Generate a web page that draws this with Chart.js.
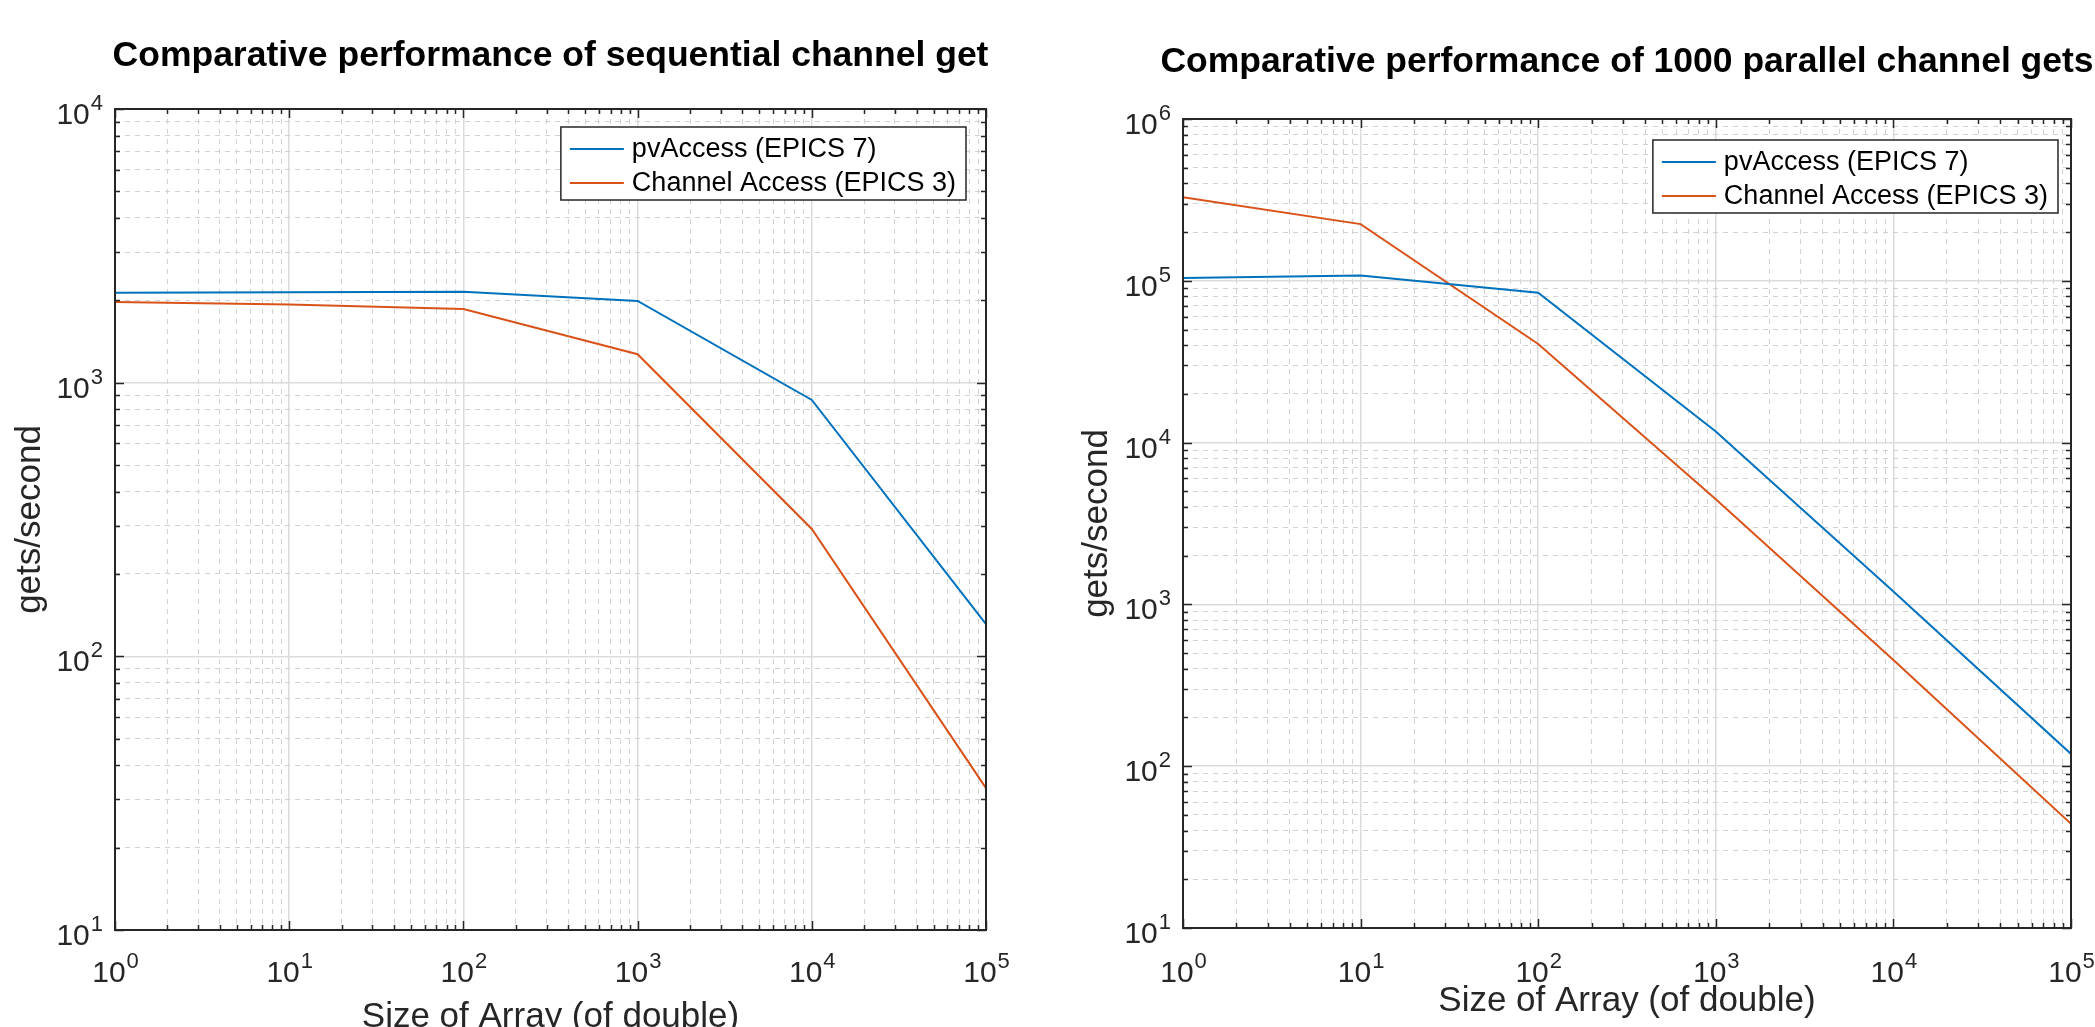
<!DOCTYPE html>
<html lang="en">
<head>
  <meta charset="UTF-8">
  <title>EPICS channel get performance</title>
  <script src="https://cdn.jsdelivr.net/npm/chart.js"></script>
  <style>
    html, body { margin: 0; padding: 0; background: #fff; overflow: hidden; }
    canvas { position: absolute; top: 0; }
    #seqChart { left: 0; }
    #parChart { left: 1047px; }
  </style>
</head>
<body>
<canvas id="seqChart" width="1047" height="1027"></canvas>
<canvas id="parChart" width="1048" height="1027"></canvas>

<script>
  // array sizes (x) and major tick values
  const sizes = [1, 10, 100, 1000, 10000, 100000];
  const xTicks = [1, 10, 100, 1000, 10000, 100000];

  // sequential channel get, gets/second
  const seqPva = [2130, 2140, 2150, 1990, 865, 131];
  const seqCa  = [1970, 1930, 1860, 1270, 292, 33];
  const seqYTicks = [10, 100, 1000, 10000];

  // 1000 parallel channel gets, gets/second
  const parPva = [104000, 108000, 84500, 11700, 1200, 119];
  const parCa  = [328000, 224000, 40700, 4460, 453, 44];
  const parYTicks = [10, 100, 1000, 10000, 100000, 1000000];

  const seriesNames = ['pvAccess (EPICS 7)', 'Channel Access (EPICS 3)'];
  const seriesColors = ['#0072BD', '#D95319'];

  const FONT = "'Liberation Sans', Helvetica, Arial, sans-serif";
  const INK = '#262626';

  // majors plus 2..9 minors in each decade
  function logTicks(majors) {
    const out = [];
    majors.forEach((m, i) => {
      out.push({ value: m, major: true });
      if (i < majors.length - 1) {
        for (let k = 2; k <= 9; k++) out.push({ value: m * k, major: false });
      }
    });
    return out;
  }

  function supLabel(ctx, exp, x, y, align) {
    ctx.font = '30px ' + FONT;
    const wb = ctx.measureText('10').width;
    ctx.font = '22px ' + FONT;
    const we = ctx.measureText(String(exp)).width;
    const x0 = align === 'center' ? x - (wb + we) / 2 : x - wb - we;
    ctx.textAlign = 'left';
    ctx.textBaseline = 'alphabetic';
    ctx.fillStyle = INK;
    ctx.font = '30px ' + FONT;
    ctx.fillText('10', x0, y);
    ctx.font = '22px ' + FONT;
    ctx.fillText(String(exp), x0 + wb + 1, y - 14);
  }

  // box, inward ticks, tick labels, axis titles, title and legend, matlab style
  const frame = {
    id: 'frame',
    afterDatasetsDraw(chart, args, o) {
      const ctx = chart.ctx;
      const a = chart.chartArea;
      const xs = chart.scales.x, ys = chart.scales.y;
      ctx.save();
      ctx.strokeStyle = INK;
      ctx.lineWidth = 1.5;
      ctx.beginPath();
      xs.ticks.forEach(t => {
        const px = Math.round(xs.getPixelForValue(t.value)) + 0.5;
        const len = t.major ? 9 : 5;
        ctx.moveTo(px, a.bottom); ctx.lineTo(px, a.bottom - len);
        ctx.moveTo(px, a.top); ctx.lineTo(px, a.top + len);
      });
      ys.ticks.forEach(t => {
        const py = Math.round(ys.getPixelForValue(t.value)) + 0.5;
        const len = t.major ? 9 : 5;
        ctx.moveTo(a.left, py); ctx.lineTo(a.left + len, py);
        ctx.moveTo(a.right, py); ctx.lineTo(a.right - len, py);
      });
      ctx.stroke();
      ctx.lineWidth = 2;
      ctx.strokeRect(a.left, a.top, a.right - a.left, a.bottom - a.top);

      // tick labels
      xs.ticks.filter(t => t.major).forEach(t => {
        supLabel(ctx, Math.round(Math.log10(t.value)), xs.getPixelForValue(t.value), 982, 'center');
      });
      ys.ticks.filter(t => t.major).forEach(t => {
        supLabel(ctx, Math.round(Math.log10(t.value)), a.left - 13, ys.getPixelForValue(t.value) + 15, 'right');
      });

      // axis titles
      ctx.fillStyle = INK;
      ctx.font = '35px ' + FONT;
      ctx.textAlign = 'center';
      ctx.textBaseline = 'alphabetic';
      ctx.fillText('Size of Array (of double)', (a.left + a.right) / 2, o.xLabelY);
      ctx.save();
      ctx.translate(o.yLabelX, (a.top + a.bottom) / 2);
      ctx.rotate(-Math.PI / 2);
      ctx.textBaseline = 'middle';
      ctx.fillText('gets/second', 0, 0);
      ctx.restore();

      // title
      ctx.fillStyle = '#000';
      ctx.font = 'bold 35.5px ' + FONT;
      ctx.fillText(o.title, (a.left + a.right) / 2, o.titleY);

      // legend
      ctx.font = '27px ' + FONT;
      const sets = chart.data.datasets;
      const tw = Math.max(...sets.map(d => ctx.measureText(d.label).width));
      const bw = 9 + 54 + 8 + tw + 10, bh = 73;
      const bx = a.right - o.legendRight - bw, by = a.top + o.legendTop;
      ctx.fillStyle = '#fff';
      ctx.fillRect(bx, by, bw, bh);
      ctx.strokeStyle = INK;
      ctx.lineWidth = 1.5;
      ctx.strokeRect(bx, by, bw, bh);
      sets.forEach((d, i) => {
        const cy = by + 22 + i * 34;
        ctx.strokeStyle = d.borderColor;
        ctx.lineWidth = 2;
        ctx.beginPath();
        ctx.moveTo(bx + 9, cy); ctx.lineTo(bx + 63, cy);
        ctx.stroke();
        ctx.fillStyle = '#000';
        ctx.textAlign = 'left';
        ctx.textBaseline = 'middle';
        ctx.fillText(d.label, bx + 71, cy + 1);
      });
      ctx.restore();
    }
  };

  function makeChart(id, pva, ca, yTicks, o) {
    const datasets = [pva, ca].map((vals, i) => ({
      label: seriesNames[i],
      data: sizes.map((s, j) => ({ x: s, y: vals[j] })),
      borderColor: seriesColors[i],
      borderWidth: 2,
      pointRadius: 0,
      tension: 0,
      fill: false
    }));
    const grid = {
      drawTicks: false,
      color: c => (c.tick && c.tick.major) ? '#dcdcdc' : '#d2d2d2',
      lineWidth: c => (c.tick && c.tick.major) ? 1.5 : 1
    };
    const border = { display: false, dash: c => (c.tick && c.tick.major) ? [] : [5, 5] };
    return new Chart(document.getElementById(id), {
      type: 'line',
      data: { datasets },
      plugins: [frame],
      options: {
        responsive: false,
        animation: false,
        devicePixelRatio: 1,
        layout: { padding: o.pad },
        plugins: {
          legend: { display: false },
          tooltip: { enabled: false },
          frame: o
        },
        scales: {
          x: {
            type: 'logarithmic', min: xTicks[0], max: xTicks[xTicks.length - 1],
            afterBuildTicks: s => { s.ticks = logTicks(xTicks); },
            afterFit: s => { s.height = 0; },
            ticks: { display: false },
            grid, border
          },
          y: {
            type: 'logarithmic', min: yTicks[0], max: yTicks[yTicks.length - 1],
            afterBuildTicks: s => { s.ticks = logTicks(yTicks); },
            afterFit: s => { s.width = 0; },
            ticks: { display: false },
            grid, border
          }
        }
      }
    });
  }

  makeChart('seqChart', seqPva, seqCa, seqYTicks, {
    title: 'Comparative performance of sequential channel get',
    pad: { left: 115, top: 109, right: 61, bottom: 97 },
    titleY: 66, xLabelY: 1027, yLabelX: 30, legendRight: 20, legendTop: 18
  });
  makeChart('parChart', parPva, parCa, parYTicks, {
    title: 'Comparative performance of 1000 parallel channel gets',
    pad: { left: 136, top: 119, right: 24, bottom: 99 },
    titleY: 72, xLabelY: 1011, yLabelX: 50, legendRight: 13, legendTop: 21
  });
</script>
</body>
</html>
